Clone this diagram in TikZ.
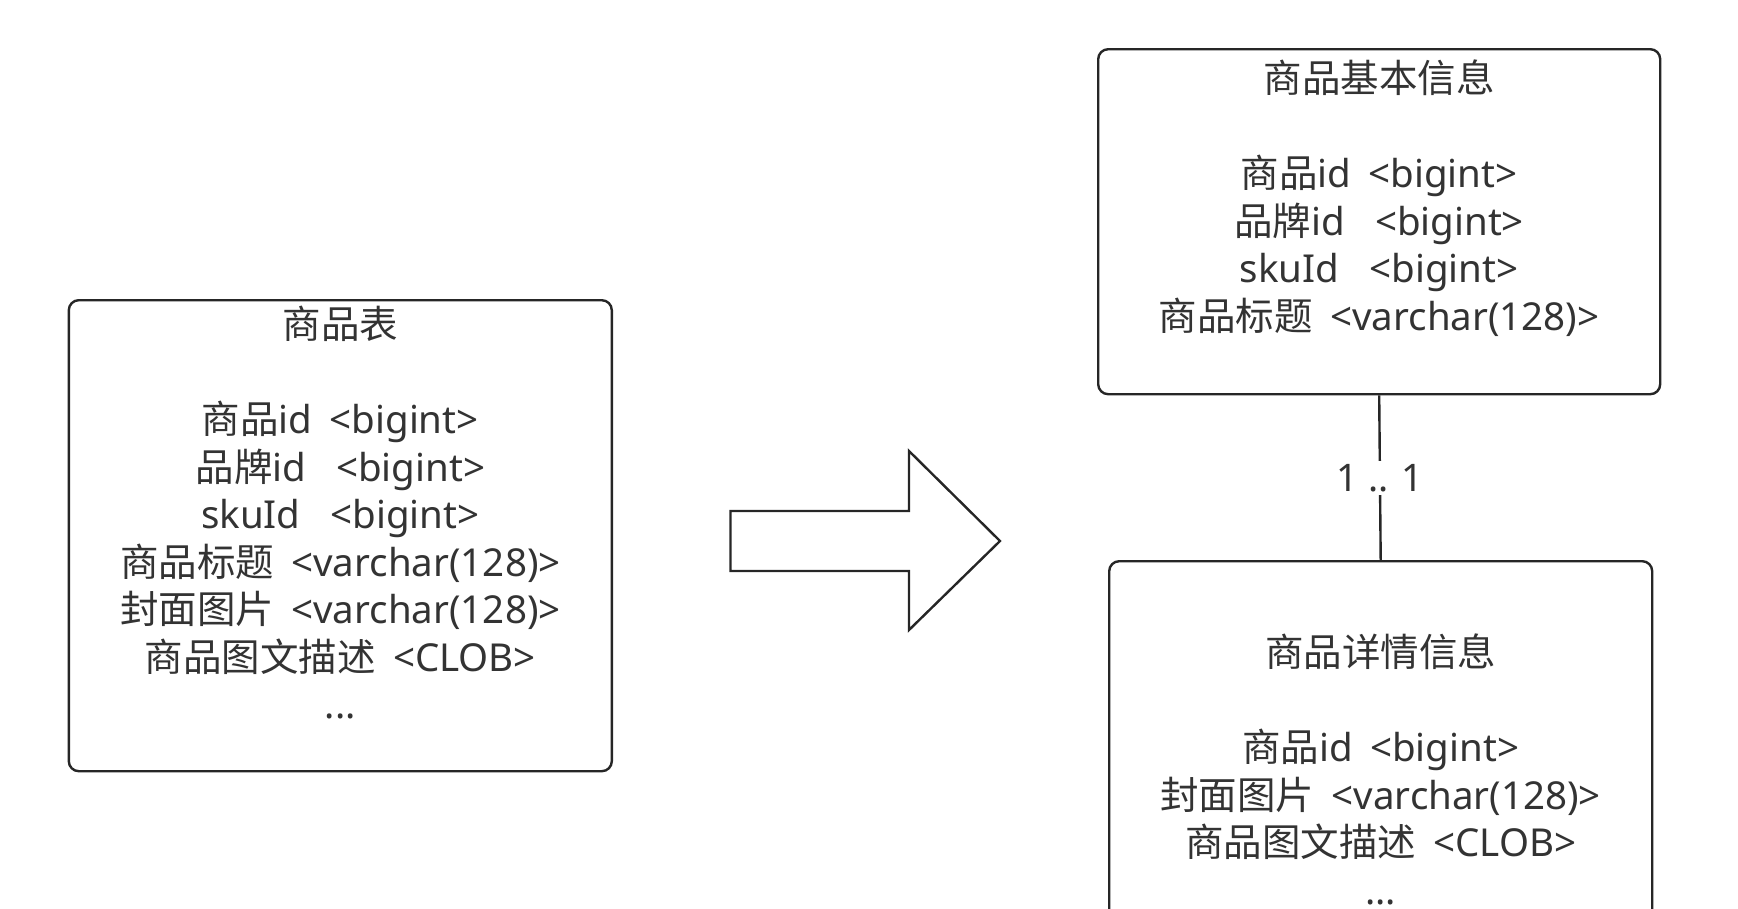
\documentclass[tikz,border=0pt]{standalone}
\usepackage{fontspec}
\setmainfont{Noto Sans CJK SC}
\newfontfamily\latf{Noto Sans}
\newcommand\lpx[1]{{\latf #1}}
\newcommand\gapx{\hspace{0.45em}}
\definecolor{linec}{HTML}{262626}
\definecolor{textc}{HTML}{333333}
\begin{document}
\begin{tikzpicture}[x=1pt,y=-1pt,
  tbl/.style={draw=linec, line width=2.4pt, rounded corners=10pt, inner sep=0pt, anchor=north west},
  txt/.style={align=center, font=\fontsize{38.5}{47.5}\selectfont, text=textc, inner sep=0pt, anchor=north},
  lbl/.style={font=\fontsize{38}{44}\selectfont\latf, text=textc, fill=white, inner sep=3pt}]
\useasboundingbox (0,0) rectangle (1738,908);
\clip (0,0) rectangle (1738,908);
% left table
\node[tbl, minimum width=543pt, minimum height=471pt] (src) at (67.6,299) {};
\node[txt] (srctxt) at ([yshift=-7pt]src.north) {商品表\\ \mbox{}\\
  商品\lpx{id\gapx<bigint>}\\
  品牌\lpx{id\ \ \ <bigint>}\\
  \lpx{skuId\ \ \ <bigint>}\\
  商品标题\lpx{\gapx<varchar(128)>}\\
  封面图片\lpx{\gapx<varchar(128)>}\\
  商品图文描述\lpx{\gapx<CLOB>}\\
  \lpx{...}};
% big arrow
\draw[linec, line width=2.4pt, line join=miter]
  (730.5,511) -- (909,511) -- (909,451) -- (1000,541) -- (909,630) -- (909,571) -- (730.5,571) -- cycle;
% top right table
\node[tbl, minimum width=562pt, minimum height=345pt] (base) at (1097,48) {};
\node[txt] (basetxt) at ([yshift=-12pt]base.north) {商品基本信息\\ \mbox{}\\
  商品\lpx{id\gapx<bigint>}\\
  品牌\lpx{id\ \ \ <bigint>}\\
  \lpx{skuId\ \ \ <bigint>}\\
  商品标题\lpx{\gapx<varchar(128)>}};
% bottom right table
\node[tbl, minimum width=543pt, minimum height=420pt] (detail) at (1108,560) {};
\node[txt] (detailtxt) at ([yshift=-74pt]detail.north) {商品详情信息\\ \mbox{}\\
  商品\lpx{id\gapx<bigint>}\\
  封面图片\lpx{\gapx<varchar(128)>}\\
  商品图文描述\lpx{\gapx<CLOB>}\\
  \lpx{...}};
% connector
\draw[linec, line width=2.4pt] (base.south) -- node[lbl] (card) {1 .. 1} (detail.north);
\end{tikzpicture}
\end{document}
